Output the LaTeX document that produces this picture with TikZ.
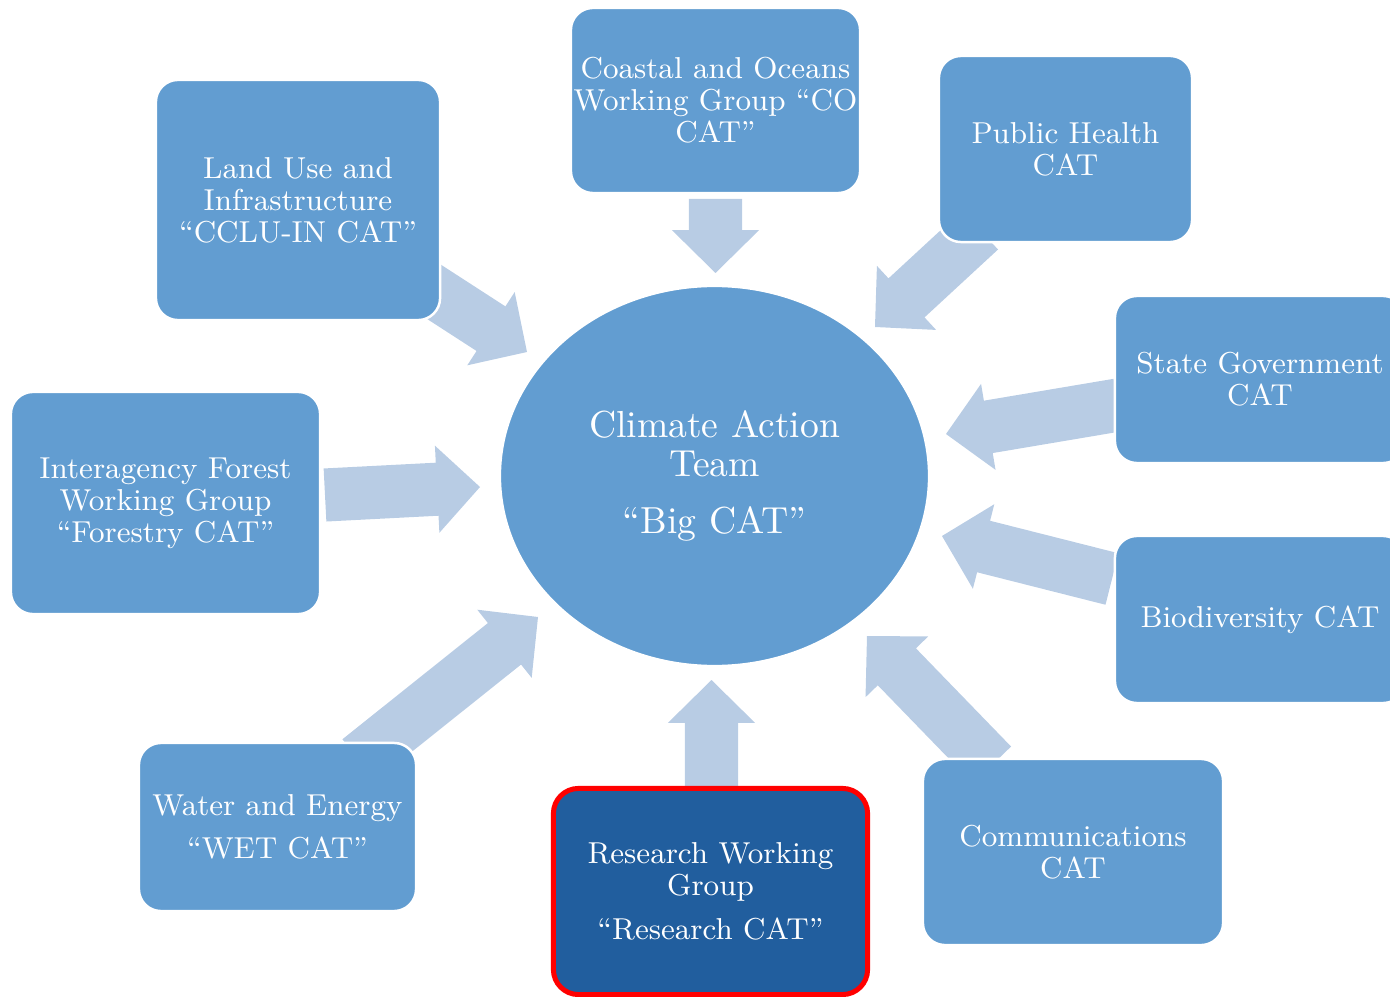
\documentclass[tikz,border=0pt]{standalone}
\usepackage{fontspec}
\usetikzlibrary{calc,shapes.geometric}
\definecolor{boxblue}{RGB}{98,157,209}
\definecolor{arrowblue}{RGB}{184,204,228}
\definecolor{darkblue}{RGB}{33,94,158}
\tikzset{
  catbox/.style={fill=boxblue, draw=white, line width=0.7pt, rounded corners=0.22cm,
    text=white, align=center, font=\fontsize{8.6}{9.1}\selectfont, inner sep=0pt},
  bigcat/.style={ellipse, fill=boxblue, draw=white, line width=0.7pt, text=white,
    align=center, font=\fontsize{10.7}{11.1}\selectfont, inner sep=0pt,
    minimum width=4.29cm, minimum height=3.8cm},
  redbox/.style={catbox, fill=darkblue, draw=red, line width=0.05cm, rounded corners=0.25cm},
  blockfill/.style={fill=arrowblue},
}
\newcommand{\blockarrow}[2]{%
  \path ($(#2)!12.2pt!(#1)$) coordinate (bn);
  \fill[blockfill] ($(#1)!7.55pt!90:(#2)$) -- ($(bn)!7.55pt!90:(#2)$)
    -- ($(bn)!12.4pt!90:(#2)$) -- (#2) -- ($(bn)!12.4pt!-90:(#2)$)
    -- ($(bn)!7.55pt!-90:(#2)$) -- ($(#1)!7.55pt!-90:(#2)$) -- cycle;
}
\begin{document}
\begin{tikzpicture}[x=0.01cm,y=-0.01cm]
\useasboundingbox (0,0) rectangle (1390,997);
\clip (0,0) rectangle (1390,997);
% arrow tails and tips
\coordinate (t1) at (715.5,199); \coordinate (h1) at (715.5,273);
\coordinate (t2) at (425,286);   \coordinate (h2) at (527,352);
\coordinate (t3) at (980,230);   \coordinate (h3) at (875,327);
\coordinate (t4) at (1118,405);  \coordinate (h4) at (946,434);
\coordinate (t5) at (1112,579);  \coordinate (h5) at (942,536);
\coordinate (t6) at (992,765);   \coordinate (h6) at (867,636);
\coordinate (t7) at (711.5,795); \coordinate (h7) at (711.5,680);
\coordinate (t8) at (359,760);   \coordinate (h8) at (538,617);
\coordinate (t9) at (325,495);   \coordinate (h9) at (480,487);
\blockarrow{t1}{h1}
\blockarrow{t2}{h2}
\blockarrow{t3}{h3}
\blockarrow{t4}{h4}
\blockarrow{t5}{h5}
\blockarrow{t6}{h6}
\blockarrow{t7}{h7}
\blockarrow{t8}{h8}
\blockarrow{t9}{h9}
% centre
\node[bigcat] (cat) at (714.5,476) {Climate Action\\Team\\[5pt]“Big CAT”};
% boxes
\node[catbox, minimum width=2.84cm, minimum height=2.4cm] (landuse) at (298,200)
  {Land Use and\\Infrastructure\\“CCLU-IN CAT”};
\node[catbox, minimum width=2.89cm, minimum height=1.85cm] (coastal) at (715.5,100.5)
  {Coastal and Oceans\\Working Group “CO\\CAT”};
\node[catbox, minimum width=2.53cm, minimum height=1.86cm] (health) at (1065.5,149)
  {Public Health\\CAT};
\node[catbox, minimum width=2.9cm, minimum height=1.67cm] (state) at (1260,379.5)
  {State Government\\CAT};
\node[catbox, minimum width=2.9cm, minimum height=1.67cm] (biodiv) at (1260,619.5)
  {Biodiversity CAT};
\node[catbox, minimum width=3.09cm, minimum height=2.22cm] (forest) at (165.5,503)
  {Interagency Forest\\Working Group\\“Forestry CAT”};
\node[catbox, minimum width=2.77cm, minimum height=1.68cm] (water) at (277.5,827)
  {Water and Energy\\[3.1pt]“WET CAT”};
\node[redbox, minimum width=3.14cm, minimum height=2.06cm] (research) at (710.5,891.5)
  {Research Working\\Group\\[3.4pt]“Research CAT”};
\node[catbox, minimum width=3.0cm, minimum height=1.86cm] (comm) at (1073,852)
  {Communications\\CAT};
\end{tikzpicture}
\end{document}
